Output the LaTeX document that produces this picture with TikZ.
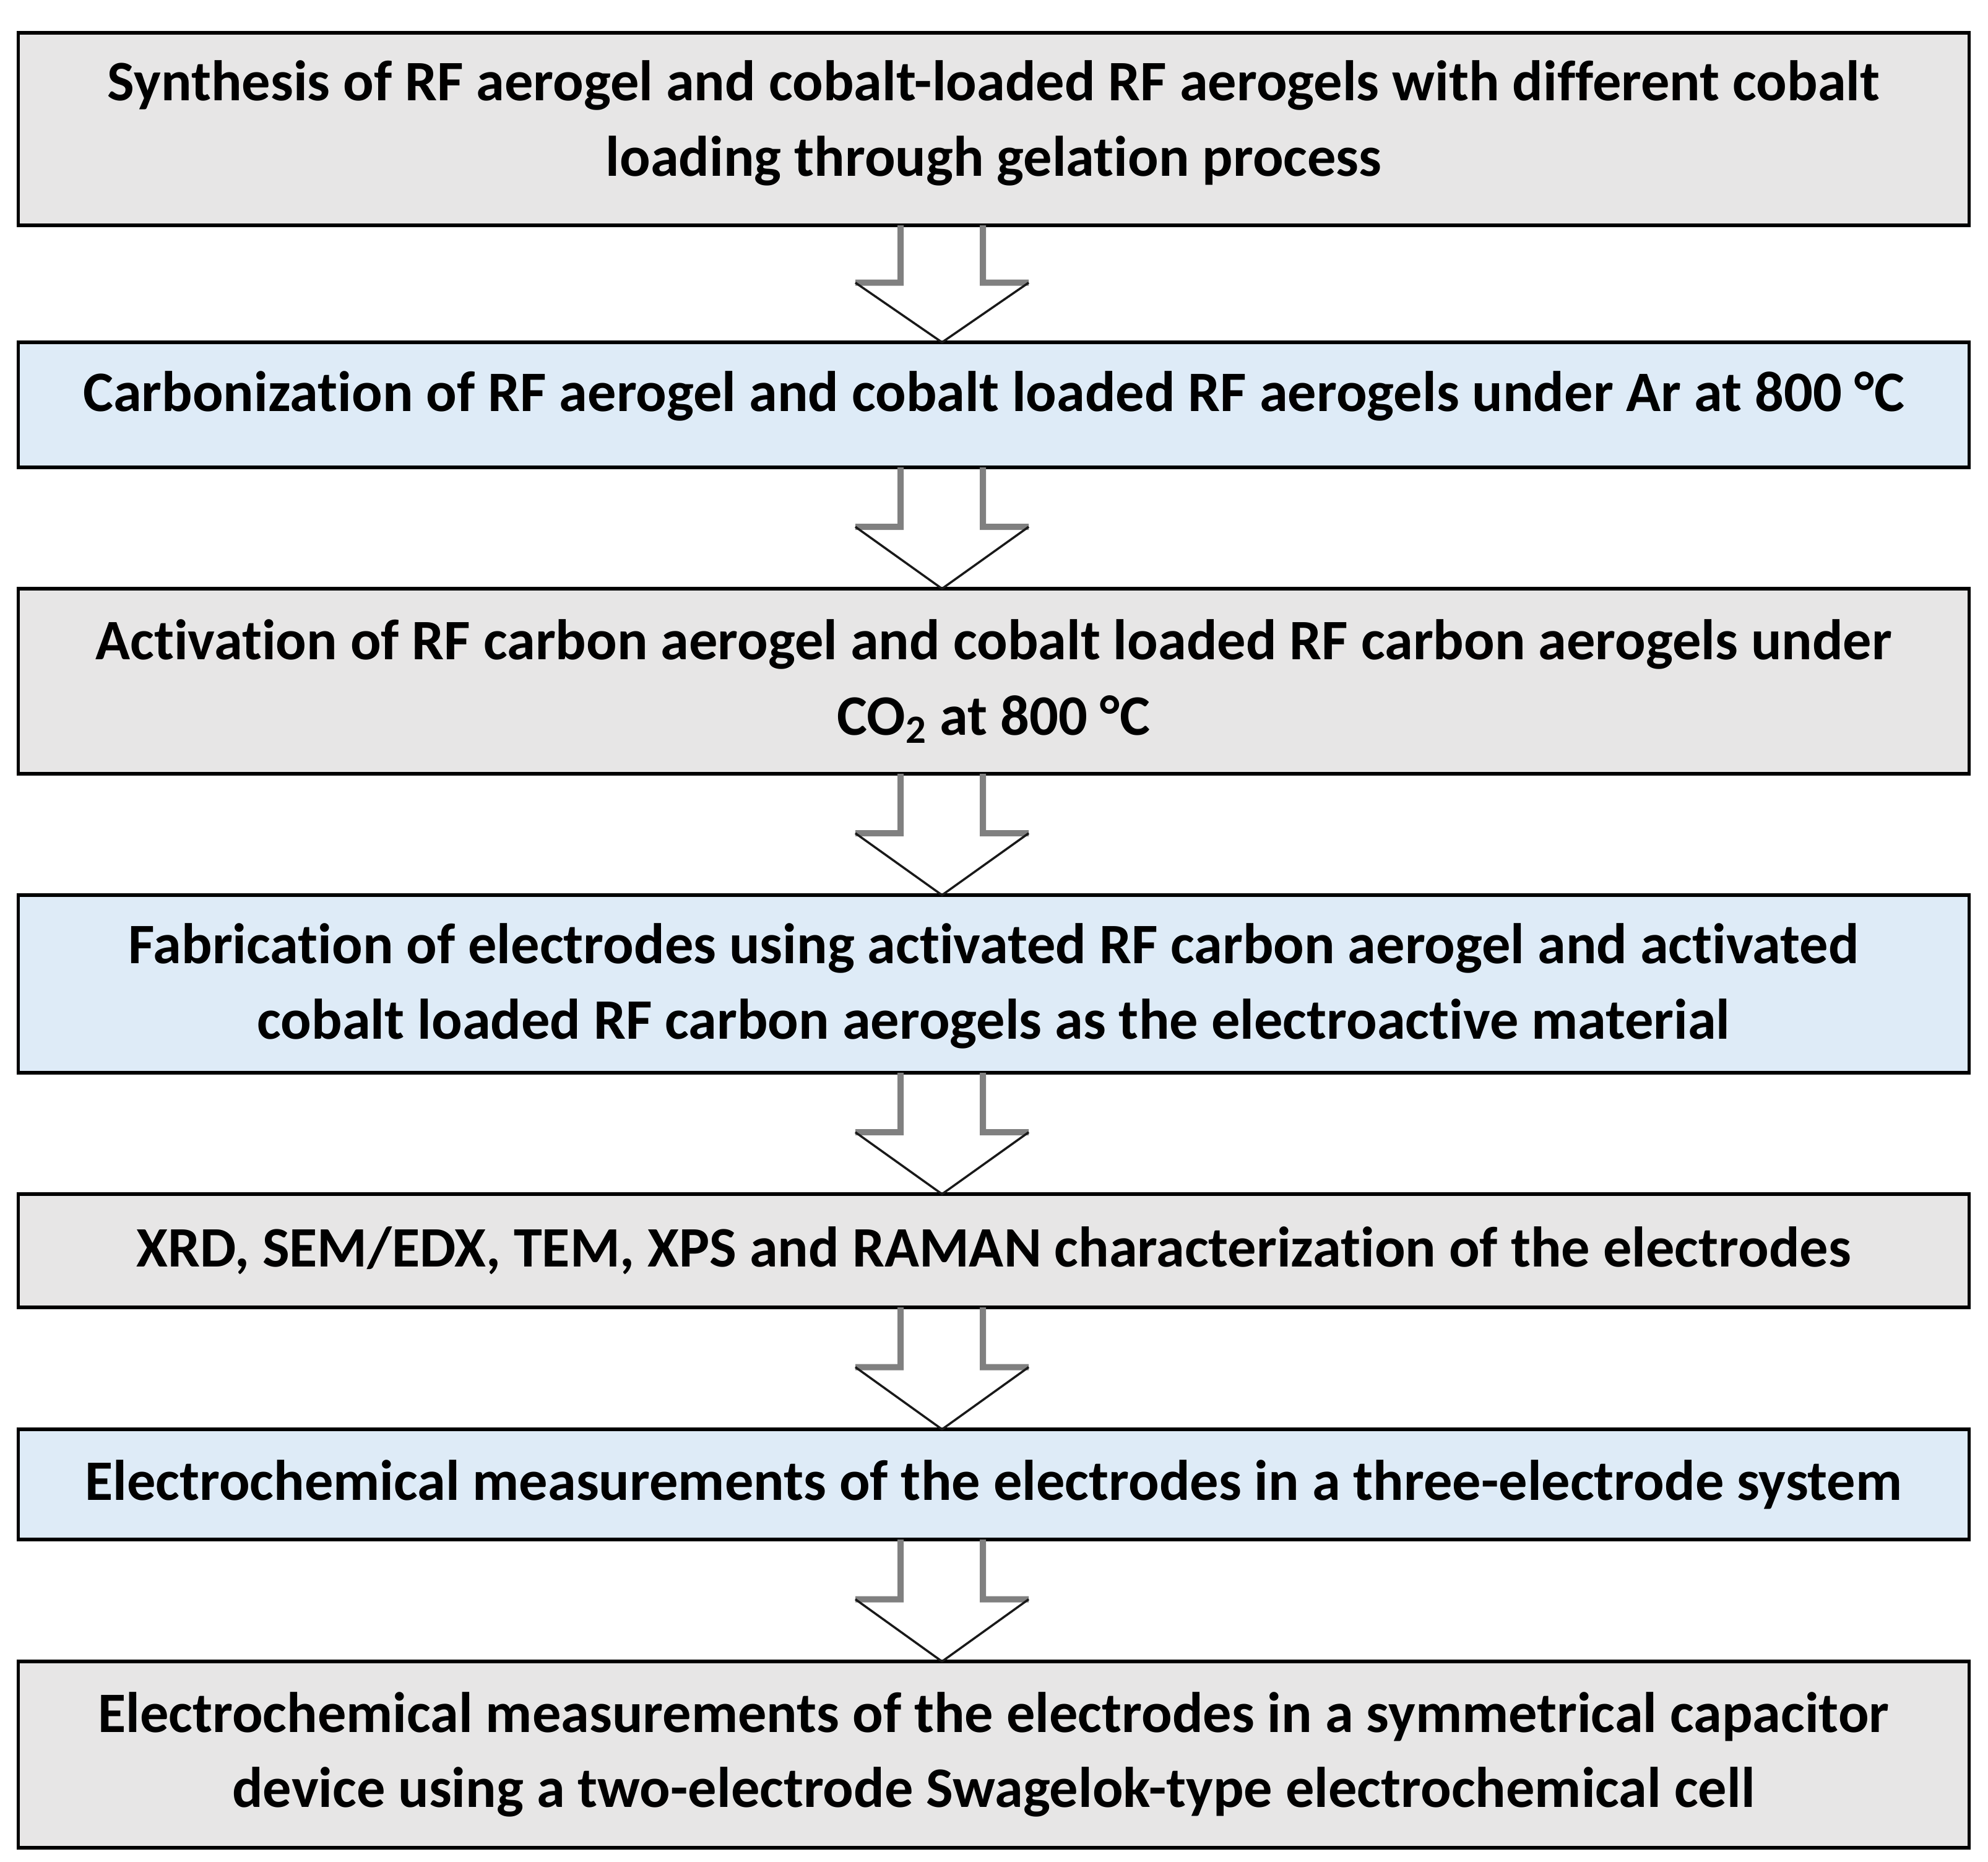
\documentclass[tikz,border=0pt]{standalone}
\usepackage{fontspec}
\setmainfont{Carlito}[Ligatures=NoCommon]
\usetikzlibrary{positioning,calc}
\definecolor{boxgray}{HTML}{E7E6E6}
\definecolor{boxblue}{HTML}{DEEBF7}

\begin{document}
\begin{tikzpicture}[
    node distance=1.96cm,
    stepbox/.style={draw=black, line width=0.055cm, outer sep=0pt, inner sep=0pt,
        minimum width=31.52cm, align=center,
        font=\fontsize{26.3}{34.6}\selectfont\bfseries},
    graybox/.style={stepbox, fill=boxgray},
    bluebox/.style={stepbox, fill=boxblue},
    shaft/.style={draw=black!50, line width=0.1cm},
    head/.style={draw=black!90, line width=0.035cm}
]
\useasboundingbox (0,0) rectangle (32.12,-30.07);

%%%%%%%%%%%%%%%%%%%
% Process steps

\node[graybox, minimum height=3.11cm, text depth=0.35cm] (synthesis) at (16.055,-2.085)
    {Synthesis of RF aerogel and cobalt-loaded RF aerogels with different cobalt\\
     loading through gelation process};

\node[bluebox, minimum height=2.02cm, text depth=0.43cm, below=1.89cm of synthesis] (carbonization)
    {Carbonization of RF aerogel and cobalt loaded RF aerogels under Ar at 800 °C};

\node[graybox, minimum height=2.99cm, below=of carbonization] (activation)
    {Activation of RF carbon aerogel and cobalt loaded RF carbon aerogels under\\
     CO\textsubscript{2} at 800 °C};

\node[bluebox, minimum height=2.87cm, text depth=0.09cm, below=of activation] (fabrication)
    {Fabrication of electrodes using activated RF carbon aerogel and activated\\
     cobalt loaded RF carbon aerogels as the electroactive material};

\node[graybox, minimum height=1.83cm, below=of fabrication] (characterization)
    {XRD, SEM/EDX, TEM, XPS and RAMAN characterization of the electrodes};

\node[bluebox, minimum height=1.78cm, below=1.97cm of characterization] (threeelectrode)
    {Electrochemical measurements of the electrodes in a three-electrode system};

\node[graybox, minimum height=3.01cm, below=1.97cm of threeelectrode] (swagelok)
    {Electrochemical measurements of the electrodes in a symmetrical capacitor\\
     device using a two-electrode Swagelok-type electrochemical cell};

%%%%%%%%%%%%%%%%%%%
% Block arrows between steps

\foreach \from/\to in {synthesis/carbonization, carbonization/activation,
        activation/fabrication, fabrication/characterization,
        characterization/threeelectrode, threeelectrode/swagelok}{
    \coordinate (mid) at ($(\from.south)!0.49!(\to.north)$);
    \draw[shaft] ($(\from.south)+(-1.505,0)$) -- ($(mid)+(-1.505,0)$) -- ($(mid)+(-2.235,0)$);
    \draw[shaft] ($(\from.south)+(-0.175,0)$) -- ($(mid)+(-0.175,0)$) -- ($(mid)+(0.565,0)$);
    \draw[head] ($(mid)+(-2.235,0)$) -- ($(\to.north)+(-0.835,0)$) -- ($(mid)+(0.565,0)$);
}

\end{tikzpicture}
\end{document}
